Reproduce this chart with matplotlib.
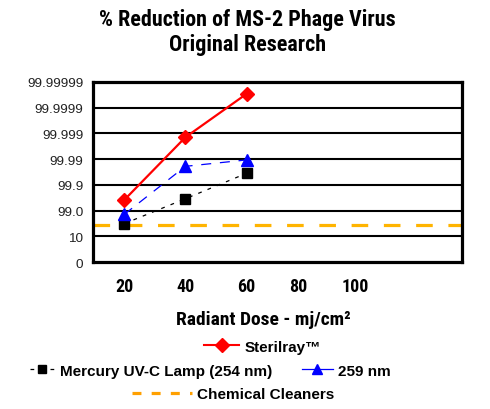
import matplotlib
matplotlib.use("Agg")
import matplotlib.pyplot as plt
from matplotlib.lines import Line2D
from matplotlib import font_manager


def has_bold(name):
    for f in font_manager.fontManager.ttflist:
        if f.name == name:
            w = f.weight
            if isinstance(w, str):
                w = font_manager.weight_dict.get(w, 400)
            if w >= 700:
                return True
    return False


NARROW = next((n for n in ["Archivo Narrow", "Roboto Condensed", "PT Sans Narrow",
                           "Fira Sans Condensed", "IBM Plex Sans Condensed", "Liberation Sans"]
               if has_bold(n)), "DejaVu Sans")
SANS = "Liberation Sans"

# ---- data ----
dose = [20, 40, 60]
sterilray = [2.41, 4.85, 6.54]      # log reduction
mercury = [1.49, 2.46, 3.45]
nm259 = [1.85, 3.72, 3.97]
chemical = 1.45
y_levels = [0, 1, 2, 3, 4, 5, 6, 7]
y_labels = ["0", "10", "99.0", "99.9", "99.99", "99.999", "99.9999", "99.99999"]
x_tick_pos = [20, 40, 60, 77, 95.5]
x_tick_labels = ["20", "40", "60", "80", "100"]

W, H = 490, 410
fig = plt.figure(figsize=(W / 100, H / 100), dpi=100)
ax = fig.add_axes([93 / W, 1 - 263 / H, (462 - 93) / W, (263 - 83) / H])

ax.set_xlim(9.8, 130.4)
ax.set_ylim(0, 7)

for lv in y_levels[1:-1]:
    ax.axhline(lv, color="black", lw=1.5, zorder=1)

ax.axhline(chemical, color="#FFB400", lw=2.3, dashes=(5.2, 4.9), zorder=2)
ax.plot(dose, mercury, color="black", lw=0.9, dashes=(3, 5), marker="s",
        ms=7, mfc="black", mec="black", zorder=3)
ax.plot(dose, nm259, color="blue", lw=0.9, dashes=(8, 7), marker="^",
        ms=8, mfc="blue", mec="blue", zorder=4)
ax.plot(dose, sterilray, color="red", lw=1.6, marker="D",
        ms=7, mfc="red", mec="red", zorder=5)

for s in ax.spines.values():
    s.set_linewidth(2.3)
    s.set_color("black")

ax.set_yticks(y_levels)
ax.set_yticklabels(y_labels, fontsize=9.7, family=SANS, color="#222222")
ax.set_xticks(x_tick_pos)
ax.set_xticklabels(x_tick_labels, fontsize=13, family=NARROW, fontweight="bold")
ax.tick_params(axis="both", length=0)
ax.tick_params(axis="y", pad=7)
ax.tick_params(axis="x", pad=11)

fig.text(247.5 / W, 1 - 9 / H, "% Reduction of MS-2 Phage Virus\nOriginal Research",
         ha="center", va="top", fontsize=15.8, family=NARROW, fontweight="bold",
         linespacing=1.2)
fig.text(263 / W, 1 - 320 / H, "Radiant Dose - mj/cm²", ha="center", va="center",
         fontsize=14, family=NARROW, fontweight="bold")


def add_leg(handle, label, x0, yc, hl):
    return fig.legend(handles=[handle], labels=[label], loc="center left",
                      bbox_to_anchor=(x0 / W, 1 - yc / H), frameon=False,
                      borderpad=0, borderaxespad=0, handlelength=hl,
                      handletextpad=0.35,
                      prop={"family": SANS, "weight": "bold", "size": 11})


add_leg(Line2D([], [], color="red", lw=1.5, marker="D", ms=7), "Sterilray™", 204, 347.7, 2.3)
add_leg(Line2D([], [], color="black", lw=0.9, dashes=(3, 5), marker="s", ms=6),
        "Mercury UV-C Lamp (254 nm)", 30, 371.7, 1.6)
add_leg(Line2D([], [], color="blue", lw=0.9, marker="^", ms=7), "259 nm", 302, 371.7, 2.0)
add_leg(Line2D([], [], color="#FFA000", lw=2.3, dashes=(2.8, 3.2)),
        "Chemical Cleaners", 132, 395, 3.9)

fig.savefig("out.png", dpi=100)
